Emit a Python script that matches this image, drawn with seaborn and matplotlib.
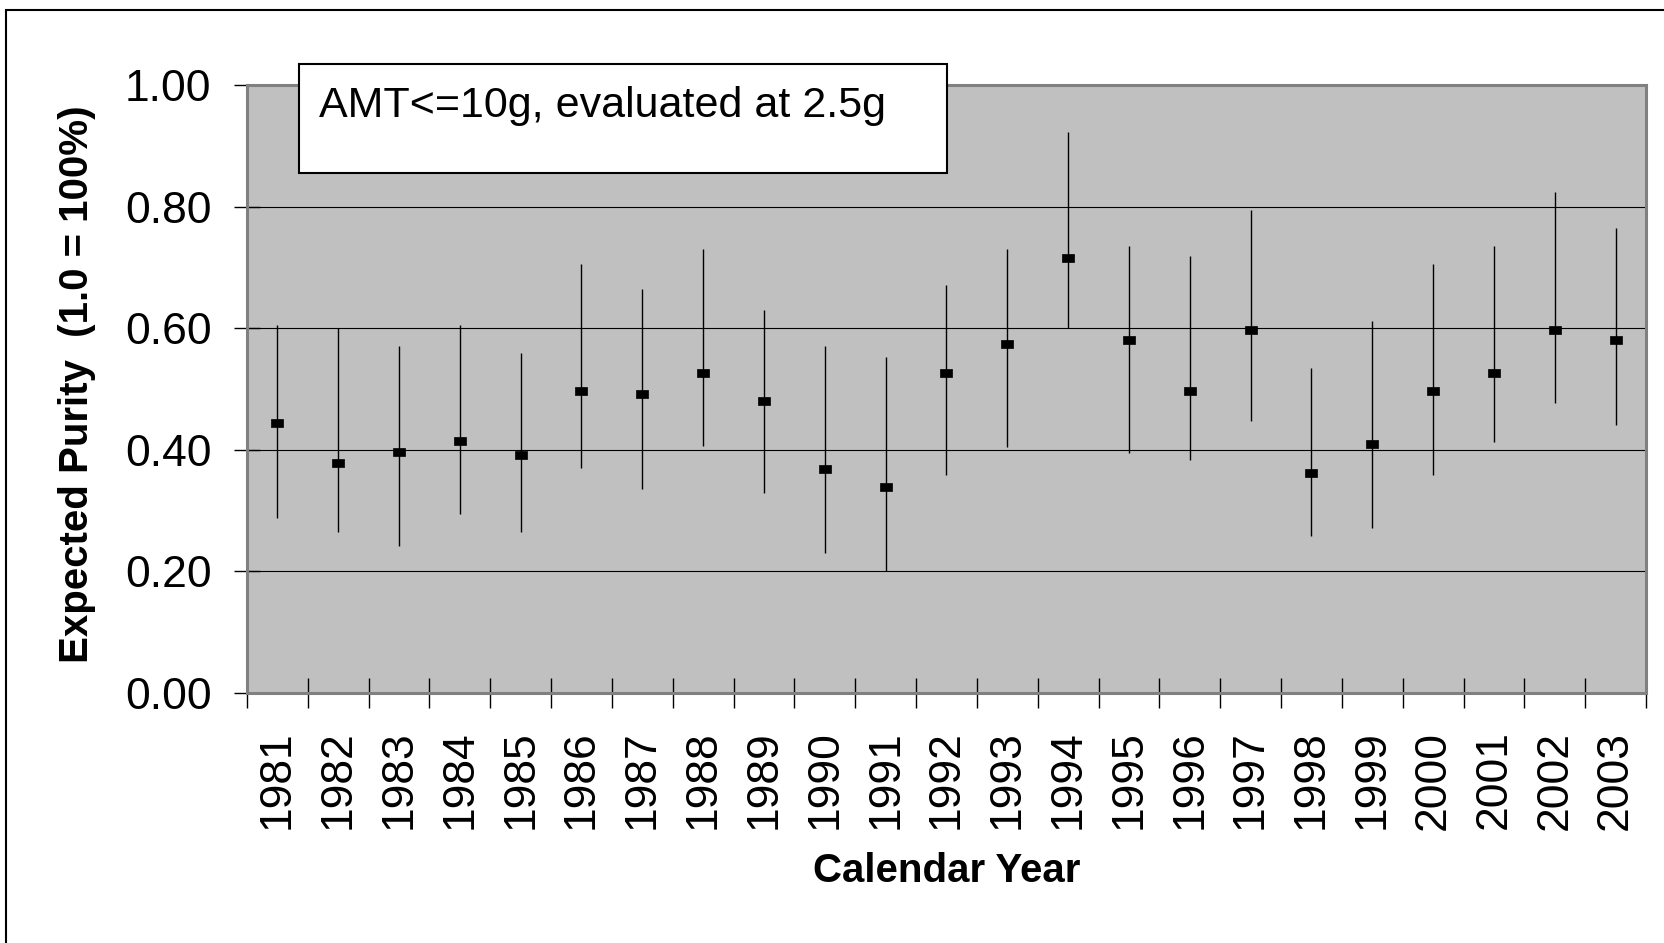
import numpy as np
import matplotlib
matplotlib.use("Agg")
import matplotlib.pyplot as plt
import matplotlib.patches as patches
from matplotlib.path import Path
from matplotlib.ticker import FixedLocator, FormatStrFormatter
import seaborn as sns

# data
years = [str(y) for y in range(1981, 2004)]
expected = [0.444, 0.379, 0.397, 0.415, 0.391, 0.497, 0.491, 0.527, 0.480, 0.368,
            0.338, 0.527, 0.574, 0.715, 0.580, 0.497, 0.597, 0.362, 0.409, 0.497,
            0.527, 0.597, 0.580]
lower = [0.288, 0.264, 0.241, 0.294, 0.264, 0.370, 0.335, 0.406, 0.329, 0.230,
         0.200, 0.358, 0.405, 0.600, 0.394, 0.383, 0.447, 0.259, 0.271, 0.358,
         0.412, 0.477, 0.441]
upper = [0.605, 0.600, 0.570, 0.605, 0.559, 0.706, 0.665, 0.730, 0.630, 0.570,
         0.553, 0.671, 0.730, 0.923, 0.735, 0.718, 0.794, 0.535, 0.612, 0.705,
         0.735, 0.824, 0.764]
y_ticks = [0.0, 0.2, 0.4, 0.6, 0.8, 1.0]
box_text = "AMT<=10g, evaluated at 2.5g"

sns.set_theme(style="white")
plt.rcParams["font.family"] = ["Liberation Sans", "DejaVu Sans"]
plt.rcParams.update({"text.color": "black", "axes.labelcolor": "black",
                     "xtick.color": "black", "ytick.color": "black"})

fig = plt.figure(figsize=(16.65, 9.43), dpi=100)
ax = fig.add_axes([0.1483, 0.2651, 0.8403, 0.6448])
ax.set_facecolor("#C0C0C0")

# outer chart frame (runs off the right/bottom edge like the source)
frame = patches.Rectangle((0.0036, -0.2), 1.3, 0.9894 + 0.2, transform=fig.transFigure,
                          fill=False, edgecolor="black", linewidth=1.5, clip_on=False)
fig.patches.append(frame)

# interval lines
ax.vlines(x=years, ymin=lower, ymax=upper, color="black", linewidth=1.0, zorder=3)

# point estimates as small flat rectangles
rect = Path([(-1.65, -1), (1.65, -1), (1.65, 1), (-1.65, 1), (-1.65, -1)],
            [Path.MOVETO, Path.LINETO, Path.LINETO, Path.LINETO, Path.CLOSEPOLY])
sns.scatterplot(x=years, y=expected, marker=rect, s=70, color="black",
                edgecolor="black", linewidth=0.5, ax=ax, zorder=4)

ax.set_xlim(-0.5, len(years) - 0.5)
ax.set_ylim(0, 1.0)

# grid
ax.set_yticks(y_ticks)
ax.yaxis.set_major_formatter(FormatStrFormatter("%.2f"))
for v in y_ticks[1:-1]:
    ax.axhline(v, color="black", linewidth=0.8, zorder=1)

# ticks
ax.tick_params(axis="y", which="major", direction="inout", length=19, width=1,
               color="black", labelcolor="black", labelsize=32, pad=16, left=True)
ax.xaxis.set_minor_locator(FixedLocator(np.arange(-0.5, len(years), 1.0)))
ax.tick_params(axis="x", which="minor", direction="inout", length=21, width=1,
               color="black", bottom=True)
ax.tick_params(axis="x", which="major", length=0, labelsize=32, pad=27,
               labelrotation=90, labelcolor="black")

for s in ax.spines.values():
    s.set_color("#808080")
    s.set_linewidth(2.2)

# axis labels
ax.set_xlabel("Calendar Year", fontsize=29, fontweight="bold", color="black")
ax.xaxis.label.set_va("center")
ax.xaxis.set_label_coords(0.5, -0.293)
ax.set_ylabel("Expected Purity  (1.0 = 100%)", fontsize=29, fontweight="bold", color="black")
ax.yaxis.label.set_va("center")
ax.yaxis.set_label_coords(-0.1215, 0.508)

# text box
box = patches.Rectangle((0.0372, 0.8553), 0.4632, 0.1792, transform=ax.transAxes,
                        facecolor="white", edgecolor="black", linewidth=1.5,
                        clip_on=False, zorder=6)
ax.add_patch(box)
ax.text(0.0515, 0.966, box_text, transform=ax.transAxes, fontsize=31,
        va="center", ha="left", color="black", zorder=7)

fig.savefig("out.png", dpi=100)
